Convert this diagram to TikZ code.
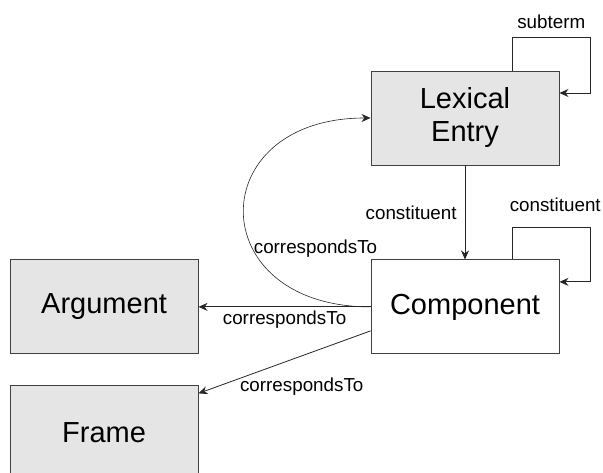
\documentclass[tikz,border=0pt]{standalone}
\usepackage{fontspec}
\setmainfont{Liberation Sans}
\usetikzlibrary{arrows.meta,positioning}

\begin{document}
\begin{tikzpicture}[
    x=1pt, y=1pt,
    node distance=94pt,
    entity/.style={rectangle, draw=black!75, line width=0.9pt, minimum width=188pt, minimum height=94pt, align=center, font=\fontsize{29}{33}\selectfont},
    shaded/.style={entity, fill=gray!20},
    arrow/.style={-{Stealth[length=9pt,width=8pt]}, draw=black!85, line width=0.8pt},
    label/.style={font=\fontsize{18.8}{21}\selectfont, inner sep=2pt}
]
\useasboundingbox (0,0) rectangle (603,473);

% Main entities
\node[shaded] (lex) at (465,355) {Lexical\\Entry};
\node[entity, below=of lex] (comp) {Component};
\node[shaded, left=172pt of comp] (arg) {Argument};
\node[shaded, below=31pt of arg] (frame) {Frame};

% Self loops
\draw[arrow] ([xshift=47pt]lex.north) -- ++(0,33pt)
    -| node[label, pos=0.25, above=6pt] {subterm} ([xshift=31pt,yshift=25pt]lex.east)
    -- ([yshift=25pt]lex.east);
\draw[arrow] ([xshift=47pt]comp.north) -- ++(0,32pt)
    -| node[label, pos=0.25, above=13pt, xshift=4pt] {constituent} ([xshift=31pt,yshift=25pt]comp.east)
    -- ([yshift=25pt]comp.east);

% Arrows
\draw[arrow] (lex) -- node[label, left=6pt] {constituent} (comp);
\draw[arrow] (comp) -- node[label, below=2pt] {correspondsTo} (arg);
\draw[arrow] ([yshift=-24pt]comp.west) -- node[label, pos=0.4, below=20pt] {correspondsTo} ([yshift=-8pt]frame.north east);
\draw[arrow, line width=0.6pt] (comp.west) to[out=180, in=180, looseness=2.29]
    node[label, pos=0.37, anchor=west, inner sep=1pt] {correspondsTo} (lex.west);

\end{tikzpicture}
\end{document}
